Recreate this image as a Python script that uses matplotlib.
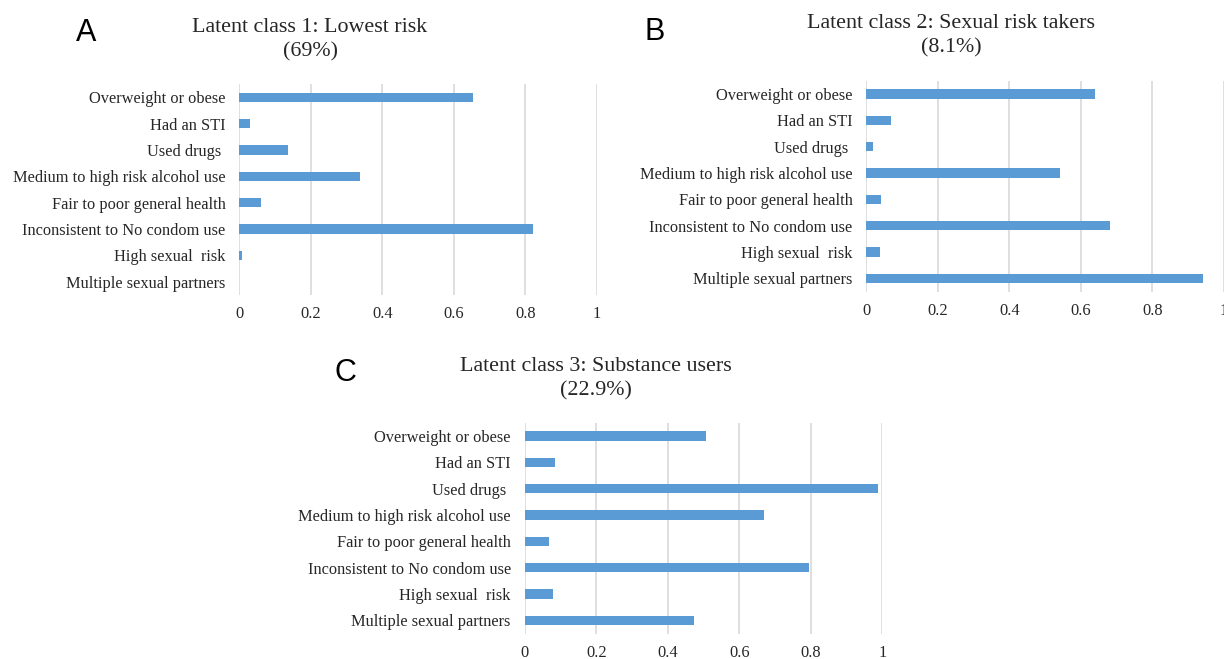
import matplotlib.pyplot as plt

# categories, top to bottom as shown in the chart
categories = ["Overweight or obese", "Had an STI", "Used drugs ",
              "Medium to high risk alcohol use", "Fair to poor general health",
              "Inconsistent to No condom use", "High sexual  risk",
              "Multiple sexual partners"]

class1 = [0.654, 0.031, 0.136, 0.338, 0.061, 0.821, 0.007, 0.0]
class2 = [0.639, 0.068, 0.020, 0.541, 0.040, 0.683, 0.039, 0.943]
class3 = [0.508, 0.085, 0.988, 0.668, 0.067, 0.796, 0.078, 0.473]

titles = ["Latent class 1: Lowest risk\n(69%)",
          "Latent class 2: Sexual risk takers\n(8.1%)",
          "Latent class 3: Substance users\n(22.9%)"]
letters = ["A", "B", "C"]
xticks = [0, 0.2, 0.4, 0.6, 0.8, 1]
xticklabels = ["0", "0.2", "0.4", "0.6", "0.8", "1"]

W, H = 1224, 659
fig = plt.figure(figsize=(W / 100, H / 100), dpi=100)

serif = "Liberation Serif"
bar_color = "#5b9bd5"

# axes rectangles in pixels: left, right, top, bottom
boxes = [(239.3, 596.7, 84.0, 295.0),
         (866.3, 1223.7, 80.8, 291.5),
         (524.7, 882.3, 423.0, 633.5)]
title_pos = [(310, 40), (951, 36), (596, 379)]
letter_pos = [(86, 33), (655, 32), (345, 373)]

for vals, box, title, tpos, letter, lpos in zip(
        [class1, class2, class3], boxes, titles, title_pos, letters, letter_pos):
    x0, x1, top, bot = box
    ax = fig.add_axes([x0 / W, 1 - bot / H, (x1 - x0) / W, (bot - top) / H])
    ax.barh(range(len(categories)), vals, height=0.355, color=bar_color, zorder=3)
    ax.set_ylim(len(categories) - 0.5, -0.5)
    ax.set_xlim(0, 1)
    ax.set_yticks(range(len(categories)))
    ax.set_yticklabels(categories, fontfamily=serif, fontsize=11.8, color="#262626")
    ax.set_xticks(xticks)
    ax.set_xticklabels(xticklabels, fontfamily=serif, fontsize=11.8, color="#262626")
    ax.tick_params(axis="both", length=0)
    ax.tick_params(axis="x", pad=8)
    ax.tick_params(axis="y", pad=10)
    ax.grid(axis="x", color="#dcdcdc", linewidth=1.3, zorder=0)
    ax.set_axisbelow(True)
    for s in ax.spines.values():
        s.set_visible(False)
    fig.text(tpos[0] / W, 1 - tpos[1] / H, title, ha="center", va="center",
             fontfamily=serif, fontsize=15.8, color="#262626", linespacing=1.35)
    fig.text(lpos[0] / W, 1 - lpos[1] / H, letter, ha="center", va="center",
             fontfamily="Liberation Sans", fontsize=22, color="black")

fig.savefig("out.png", dpi=100)
